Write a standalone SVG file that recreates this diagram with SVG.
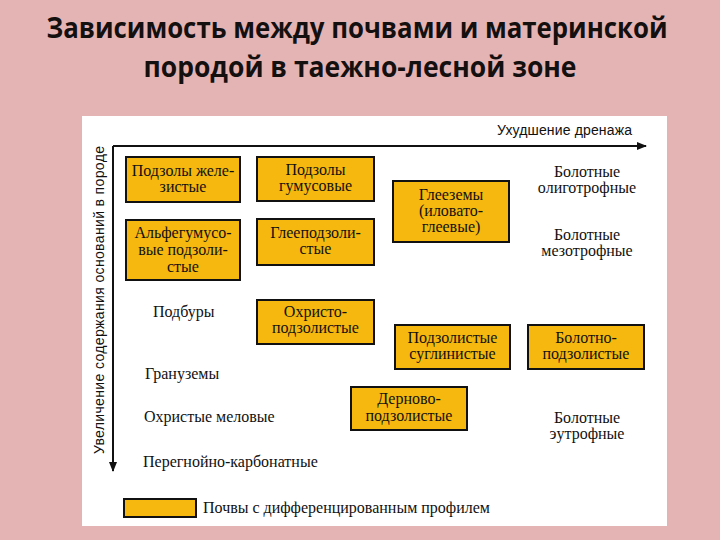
<svg xmlns="http://www.w3.org/2000/svg" width="720" height="540" viewBox="0 0 720 540">
<style>
.title{font-family:"Open Sans","Liberation Sans",sans-serif;font-weight:bold;font-size:28px;fill:#141010;text-anchor:middle}
.box{fill:#f6b80e;stroke:#111;stroke-width:2}
.t{font-family:"Liberation Serif","DejaVu Serif",serif;font-size:16px;fill:#111;text-anchor:middle}
.tl{font-family:"Liberation Serif","DejaVu Serif",serif;font-size:16px;fill:#111}
.ax{font-family:"Liberation Sans","DejaVu Sans",sans-serif;font-size:14px;fill:#111}
.axis{stroke:#111;stroke-width:2;fill:none}
</style>
<defs>
<marker id="arr" viewBox="0 0 10 8" refX="9" refY="4" markerWidth="10" markerHeight="8" markerUnits="userSpaceOnUse" orient="auto">
<path d="M0,0 L10,4 L0,8 Z" fill="#111"/>
</marker>
</defs>
<rect x="0" y="0" width="720" height="540" fill="#e4b4b4"/>
<text class="title" x="357" y="38" textLength="621" lengthAdjust="spacingAndGlyphs">Зависимость между почвами и материнской</text>
<text class="title" x="360" y="77" textLength="433" lengthAdjust="spacingAndGlyphs">породой в таежно-лесной зоне</text>
<rect x="82" y="116" width="585" height="410" fill="#ffffff"/>
<g id="connectors">
<line class="axis" x1="113" y1="146" x2="646" y2="146" marker-end="url(#arr)"/>
<line class="axis" x1="113" y1="146" x2="113" y2="471" marker-end="url(#arr)"/>
</g>
<g id="axis-x-label"><text class="ax" x="497" y="135" textLength="135">Ухудшение дренажа</text></g>
<g id="axis-y-label"><text class="ax" transform="translate(104,300) rotate(-90)" text-anchor="middle" textLength="308">Увеличение содержания оснований в породе</text></g>
<g id="n1"><rect class="box" x="126" y="157" width="114" height="45"/>
<text class="t" x="183" y="176">Подзолы желе-</text><text class="t" x="183" y="192">зистые</text></g>
<g id="n2"><rect class="box" x="257" y="157" width="117" height="44"/>
<text class="t" x="315.5" y="175">Подзолы</text><text class="t" x="315.5" y="191">гумусовые</text></g>
<g id="n3"><rect class="box" x="126" y="220" width="114" height="60"/>
<text class="t" x="183" y="238">Альфегумусо-</text><text class="t" x="183" y="255">вые подзоли-</text><text class="t" x="183" y="272">стые</text></g>
<g id="n4"><rect class="box" x="257" y="219" width="117" height="46"/>
<text class="t" x="315.5" y="238">Глееподзоли-</text><text class="t" x="315.5" y="254">стые</text></g>
<g id="n5"><rect class="box" x="393" y="181" width="116" height="61"/>
<text class="t" x="451" y="200">Глееземы</text><text class="t" x="451" y="216">(иловато-</text><text class="t" x="451" y="232">глеевые)</text></g>
<g id="n6"><rect class="box" x="257" y="300" width="117" height="44"/>
<text class="t" x="315.5" y="317">Охристо-</text><text class="t" x="315.5" y="333">подзолистые</text></g>
<g id="n7"><rect class="box" x="395" y="325" width="115" height="44"/>
<text class="t" x="452.5" y="343">Подзолистые</text><text class="t" x="452.5" y="359">суглинистые</text></g>
<g id="n8"><rect class="box" x="528" y="325" width="116" height="44"/>
<text class="t" x="586" y="343">Болотно-</text><text class="t" x="586" y="359">подзолистые</text></g>
<g id="n9"><rect class="box" x="351" y="387" width="116" height="43"/>
<text class="t" x="409" y="404">Дерново-</text><text class="t" x="409" y="421">подзолистые</text></g>
<g id="p1"><text class="t" x="587" y="177">Болотные</text><text class="t" x="587" y="193">олиготрофные</text></g>
<g id="p2"><text class="t" x="587" y="240">Болотные</text><text class="t" x="587" y="256">мезотрофные</text></g>
<g id="p3"><text class="t" x="587" y="423">Болотные</text><text class="t" x="587" y="439">эутрофные</text></g>
<g id="p4"><text class="tl" x="153" y="317">Подбуры</text></g>
<g id="p5"><text class="tl" x="145" y="379">Грануземы</text></g>
<g id="p6"><text class="tl" x="144" y="422">Охристые меловые</text></g>
<g id="p7"><text class="tl" x="143" y="467">Перегнойно-карбонатные</text></g>
<g id="legend"><rect class="box" x="124" y="499" width="72" height="18"/>
<text class="tl" x="203" y="513">Почвы с дифференцированным профилем</text></g>
</svg>
